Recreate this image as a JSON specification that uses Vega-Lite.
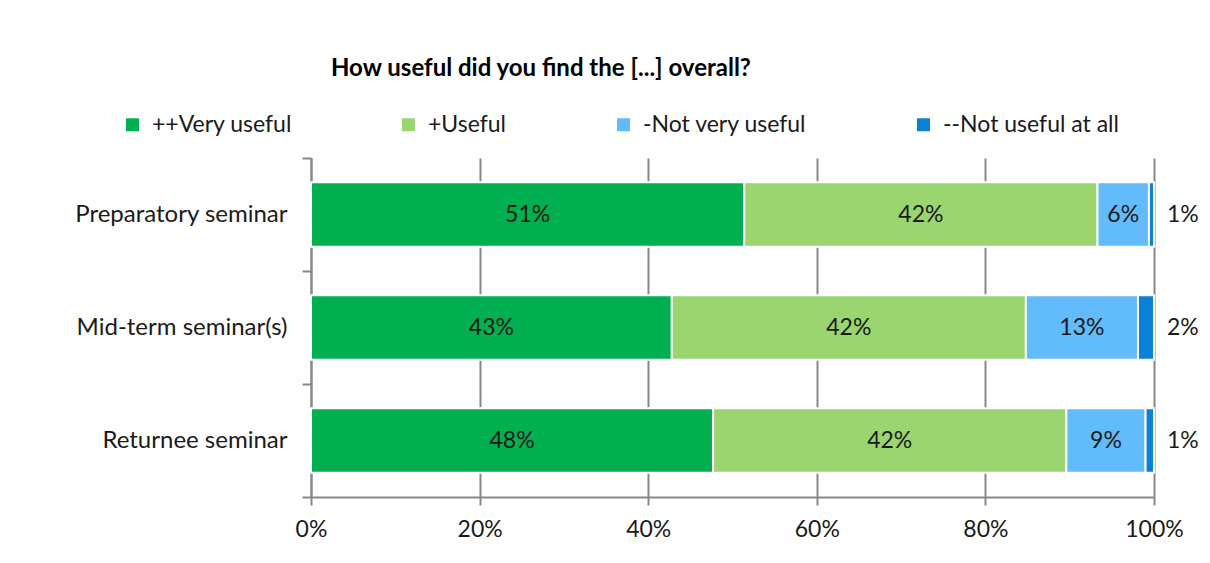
{
  "$schema": "https://vega.github.io/schema/vega-lite/v6.json",
  "width": 843,
  "height": 339,
  "autosize": {"type": "none"},
  "padding": {"left": 311, "top": 158, "right": 56, "bottom": 66},
  "background": "white",
  "config": {"view": {"stroke": null}, "font": "Lato"},
  "title": {
    "text": "How useful did you find the [...] overall?",
    "anchor": "start",
    "frame": "group",
    "dx": 20,
    "offset": 32,
    "fontSize": 24,
    "fontWeight": "bold",
    "font": "Lato",
    "color": "#000000"
  },
  "data": {
    "values": [
      {"seminar": "Preparatory seminar", "response": "++Very useful", "rank": 1, "share": 0.514},
      {"seminar": "Preparatory seminar", "response": "+Useful", "rank": 2, "share": 0.419},
      {"seminar": "Preparatory seminar", "response": "-Not very useful", "rank": 3, "share": 0.061},
      {"seminar": "Preparatory seminar", "response": "--Not useful at all", "rank": 4, "share": 0.006},
      {"seminar": "Mid-term seminar(s)", "response": "++Very useful", "rank": 1, "share": 0.428},
      {"seminar": "Mid-term seminar(s)", "response": "+Useful", "rank": 2, "share": 0.42},
      {"seminar": "Mid-term seminar(s)", "response": "-Not very useful", "rank": 3, "share": 0.133},
      {"seminar": "Mid-term seminar(s)", "response": "--Not useful at all", "rank": 4, "share": 0.019},
      {"seminar": "Returnee seminar", "response": "++Very useful", "rank": 1, "share": 0.477},
      {"seminar": "Returnee seminar", "response": "+Useful", "rank": 2, "share": 0.419},
      {"seminar": "Returnee seminar", "response": "-Not very useful", "rank": 3, "share": 0.094},
      {"seminar": "Returnee seminar", "response": "--Not useful at all", "rank": 4, "share": 0.01}
    ]
  },
  "encoding": {
    "y": {
      "field": "seminar",
      "type": "nominal",
      "sort": ["Preparatory seminar", "Mid-term seminar(s)", "Returnee seminar"],
      "scale": {"paddingInner": 0, "paddingOuter": 0},
      "axis": {
        "title": null,
        "domainColor": "#888888",
        "domainWidth": 2,
        "tickColor": "#888888",
        "tickWidth": 2,
        "tickSize": 9,
        "bandPosition": 1,
        "tickExtra": true,
        "grid": false,
        "labelFontSize": 24,
        "labelFont": "Lato",
        "labelColor": "#1a1a1a",
        "labelPadding": 15,
        "labelLimit": 0
      }
    }
  },
  "layer": [
    {
      "mark": {"type": "bar", "height": {"band": 0.57}, "stroke": "white", "strokeWidth": 2},
      "encoding": {
        "x": {
          "field": "share",
          "type": "quantitative",
          "stack": "zero",
          "scale": {"domain": [0, 1], "nice": false},
          "axis": {
            "title": null,
            "format": ".0%",
            "values": [0, 0.2, 0.4, 0.6, 0.8, 1],
            "grid": true,
            "gridColor": "#888888",
            "gridWidth": 2,
            "domainColor": "#888888",
            "domainWidth": 2,
            "tickColor": "#888888",
            "tickWidth": 2,
            "tickSize": 8,
            "labelFlush": false,
            "labelFontSize": 23,
            "labelFont": "Lato",
            "labelColor": "#1a1a1a",
            "labelPadding": 13
          }
        },
        "color": {
          "field": "response",
          "type": "nominal",
          "scale": {
            "domain": ["++Very useful", "+Useful", "-Not very useful", "--Not useful at all"],
            "range": ["#00AF50", "#9AD56F", "#62BBFA", "#0A80D6"]
          },
          "legend": {
            "orient": "none",
            "legendX": -190,
            "legendY": -45,
            "direction": "horizontal",
            "title": null,
            "padding": 0,
            "symbolType": "square",
            "symbolSize": 169,
            "symbolStrokeWidth": 0,
            "symbolOpacity": 1,
            "labelFontSize": 23,
            "labelFont": "Lato",
            "labelColor": "#1a1a1a",
            "labelOffset": 8,
            "labelLimit": 0,
            "columnPadding": 105
          }
        },
        "order": {"field": "rank", "type": "quantitative"}
      }
    },
    {
      "mark": {"type": "text", "fontSize": 23, "font": "Lato", "color": "#1a1a1a", "align": "center", "baseline": "middle"},
      "encoding": {
        "x": {"field": "share", "type": "quantitative", "stack": "zero", "bandPosition": 0.5},
        "text": {"condition": {"test": "datum.rank < 4", "field": "share", "format": ".0%"}, "value": ""},
        "order": {"field": "rank", "type": "quantitative"}
      }
    },
    {
      "mark": {"type": "text", "fontSize": 23, "font": "Lato", "color": "#1a1a1a", "align": "left", "baseline": "middle", "dx": 13},
      "encoding": {
        "x": {"field": "share", "type": "quantitative", "stack": "zero"},
        "text": {"condition": {"test": "datum.rank === 4", "field": "share", "format": ".0%"}, "value": ""},
        "order": {"field": "rank", "type": "quantitative"}
      }
    }
  ]
}
